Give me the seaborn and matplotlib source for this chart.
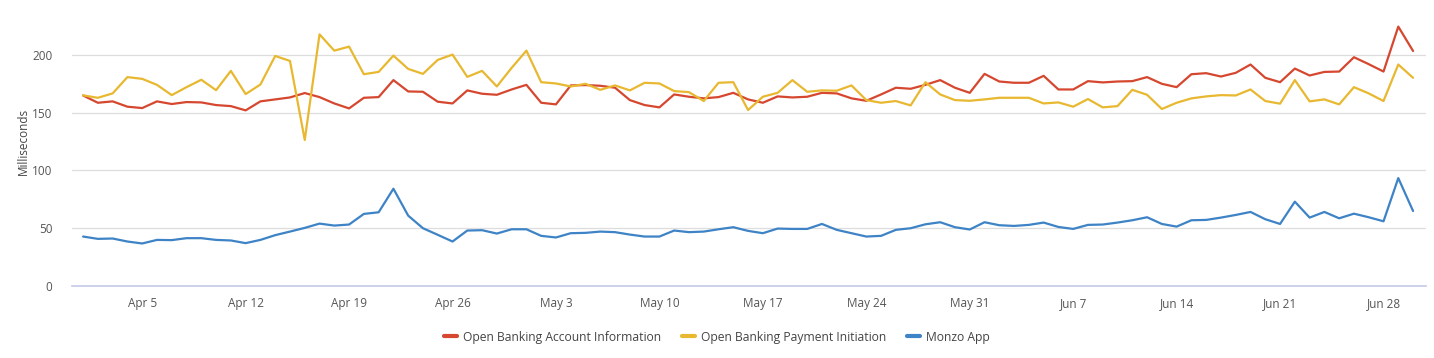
import pandas as pd
import matplotlib
matplotlib.use("Agg")
import matplotlib.pyplot as plt
import matplotlib.dates as mdates
import seaborn as sns

# Daily response times (ms), 1 Apr - 30 Jun
start_date = "2020-04-01"
account_info = [
    164.9, 158.6, 159.8, 155.2, 154.0, 159.8, 157.5, 159.2, 158.9, 156.6, 155.7, 152.0, 159.8,
    161.5, 163.2, 167.0, 163.5, 158.0, 153.7, 162.9, 163.5, 178.2, 168.4, 168.1, 159.5, 158.0,
    169.3, 166.4, 165.5, 170.1, 174.1, 158.6, 157.2, 173.6, 173.9, 173.3, 171.6, 160.9, 156.6,
    154.6, 165.8, 163.8, 162.4, 163.5, 167.2, 161.5, 158.6, 164.1, 163.2, 163.8, 167.2, 166.7,
    162.4, 160.3, 165.8, 171.6, 170.7, 174.1, 178.2, 171.6, 167.2, 183.6, 177.0, 175.9, 175.9,
    181.9, 170.1, 170.1, 177.3, 176.2, 177.0, 177.3, 180.8, 175.0, 172.1, 183.3, 184.2,
    181.3, 184.5, 191.7, 180.2, 176.4, 188.2, 182.2, 185.3, 185.6, 198.0, 192.0, 185.6, 224.5, 203.4,
]
payment_init = [
    165.0, 162.9, 166.7, 180.8, 179.3, 174.1, 165.2, 172.1, 178.5, 169.5, 186.2, 166.1, 174.4,
    199.1, 194.8, 126.4, 217.8, 203.7, 207.2, 183.3, 185.3, 199.4, 187.9, 183.6, 195.7, 200.3,
    181.0, 186.2, 172.7, 188.8, 203.7, 176.4, 175.3, 172.7, 175.0, 169.8, 173.6, 169.3, 175.9,
    175.3, 168.7, 167.8, 160.1, 175.9, 176.4, 152.3, 163.8, 167.2, 178.2, 168.1, 169.3, 169.0,
    173.6, 160.9, 158.6, 160.1, 156.3, 176.4, 165.8, 160.9, 160.3, 161.5, 162.9, 162.9, 162.9,
    158.0, 158.9, 155.2, 161.8, 154.6, 155.7, 169.8, 165.5, 153.2, 158.6, 162.4, 164.1,
    165.2, 164.9, 170.1, 160.1, 157.8, 178.2, 159.8, 161.5, 157.2, 172.1, 166.7, 160.1, 191.7, 180.2,
]
monzo_app = [
    42.8, 40.8, 41.1, 38.5, 36.8, 39.9, 39.7, 41.4, 41.4, 39.9, 39.4, 37.1, 39.9,
    44.0, 47.1, 50.3, 54.0, 52.3, 53.2, 62.4, 63.8, 84.2, 60.9, 50.0, 44.3, 38.5,
    48.0, 48.3, 45.4, 49.1, 49.1, 43.4, 42.0, 45.7, 46.0, 47.1, 46.6, 44.5, 42.8,
    42.8, 48.0, 46.6, 47.1, 49.1, 50.9, 47.7, 45.7, 49.7, 49.4, 49.4, 53.7, 48.6,
    45.7, 42.8, 43.4, 48.6, 50.0, 53.4, 55.2, 50.9, 48.9, 55.2, 52.6, 52.0, 52.9,
    54.9, 51.1, 49.4, 52.9, 53.2, 54.9, 56.9, 59.5, 53.7, 51.4, 56.9, 57.2,
    59.2, 61.5, 64.1, 57.8, 53.7, 73.0, 59.2, 64.1, 58.6, 62.6, 59.5, 56.0, 93.4, 64.9,
]
series_names = ["Open Banking Account Information", "Open Banking Payment Initiation", "Monzo App"]
series_colors = ["#d6472f", "#e8b830", "#3d83c6"]
y_ticks = [0, 50, 100, 150, 200]
tick_start = "2020-04-05"

dates = pd.date_range(start_date, periods=len(account_info), freq="D")
df = pd.concat([
    pd.DataFrame({"date": dates, "ms": vals, "series": name})
    for name, vals in zip(series_names, [account_info, payment_init, monzo_app])
])

sns.set_style("white")
plt.rcParams["font.family"] = ["Open Sans", "DejaVu Sans"]

fig = plt.figure(figsize=(14.34, 3.58), dpi=100)
ax = fig.add_axes([72 / 1434, 72 / 358, 1354 / 1434, 290 / 358])

sns.lineplot(data=df, x="date", y="ms", hue="series", hue_order=series_names,
             palette=series_colors, linewidth=1.6, ax=ax, legend=True)

ax.set_ylim(0, 251)
ax.set_xlim(dates[0] - pd.Timedelta(hours=18), dates[-1] + pd.Timedelta(hours=21))
ax.set_yticks(y_ticks)
ax.set_xticks(pd.date_range(tick_start, dates[-1], freq="7D"))
ax.xaxis.set_major_formatter(mdates.DateFormatter("%b %-d"))
ax.tick_params(axis="both", length=0, labelsize=8.5, colors="#555555")
ax.tick_params(axis="x", pad=8)
ax.tick_params(axis="y", pad=14)
ax.grid(axis="y", color="#dddddd", linewidth=0.9)
ax.set_axisbelow(True)
for s in ["top", "right", "left"]:
    ax.spines[s].set_visible(False)
ax.spines["bottom"].set_color("#c5cbe8")
ax.spines["bottom"].set_linewidth(1.2)
ax.set_xlabel("")
ax.set_ylabel("Milliseconds", fontsize=8.5, color="#444444", labelpad=2)

handles, labels = ax.get_legend_handles_labels()
ax.get_legend().remove()
fig.legend(handles, labels, loc="center", bbox_to_anchor=(0.5, 21 / 358), ncol=3,
           frameon=False, fontsize=8.7, handlelength=1.1, handletextpad=0.5,
           columnspacing=1.7, labelcolor="#444444")
for h in fig.legends[0].get_lines():
    h.set_linewidth(3)

fig.savefig("out.png", dpi=100)
